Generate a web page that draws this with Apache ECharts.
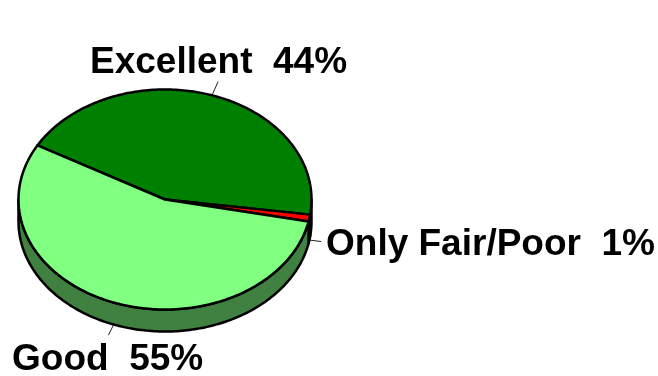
<!DOCTYPE html>
<html>
<head>
<meta charset="utf-8">
<style>html,body{margin:0;padding:0;background:#fff}#c{width:658px;height:376px}</style>
<script src="https://cdn.jsdelivr.net/npm/echarts@6/dist/echarts.min.js"></script>
</head>
<body>
<div id="c"></div>
<script>
const categories = ['Excellent', 'Only Fair/Poor', 'Good'];
const shares = [44, 1, 55];
const labelTexts = ['Excellent  44%', 'Only Fair/Poor  1%', 'Good  55%'];
const topColors = ['#008000', '#ff0000', '#80ff80'];
const sideColors = ['#004000', '#800000', '#408040'];

const geo = {cx: 165, cy: 199.5, rx: 146.5, ry: 110, depth: 22, start: 209.5};
const labelPos = [[90, 63], [326, 245], [12, 360]];
const leaderLen = [15, 12, 12];
const fontStyle = 'bold 37px "Liberation Sans", Arial, sans-serif';

const total = shares.reduce((a, b) => a + b, 0);
const rad = d => d * Math.PI / 180;
const pt = (a, dy) => [geo.cx + geo.rx * Math.cos(rad(a)), geo.cy + geo.ry * Math.sin(rad(a)) + (dy || 0)];
function arc(a, b, dy) {
  const n = Math.max(2, Math.ceil(Math.abs(b - a)));
  const out = [];
  for (let i = 0; i <= n; i++) out.push(pt(a + (b - a) * i / n, dy));
  return out;
}

function renderItem(params, api) {
  const i = params.dataIndex;
  let before = 0;
  for (let k = 0; k < i; k++) before += shares[k];
  const a0 = geo.start + before / total * 360;
  const a1 = a0 + api.value(1) / total * 360;
  const mid = (a0 + a1) / 2;
  const children = [];

  // side wall: the front half of the rim only (360..540 deg)
  const s0 = Math.max(a0, 360), s1 = Math.min(a1, 540);
  if (s1 > s0) {
    children.push({
      type: 'polygon', z2: 1,
      shape: {points: arc(s0, s1, 0).concat(arc(s1, s0, geo.depth))},
      style: {fill: sideColors[i], stroke: '#000', lineWidth: 2.5, lineJoin: 'round'}
    });
  }
  // top face
  children.push({
    type: 'polygon', z2: 2,
    shape: {points: [[geo.cx, geo.cy]].concat(arc(a0, a1, 0))},
    style: {fill: topColors[i], stroke: '#000', lineWidth: 2.5, lineJoin: 'round'}
  });
  // leader line
  const m = ((mid % 360) + 360) % 360;
  const front = m < 180;
  const p = pt(mid, front ? geo.depth : 0);
  const ux = Math.cos(rad(mid)) * geo.rx, uy = Math.sin(rad(mid)) * geo.ry;
  const ul = Math.hypot(ux, uy);
  children.push({
    type: 'line', z2: 0,
    shape: {x1: p[0], y1: p[1], x2: p[0] + ux / ul * leaderLen[i], y2: p[1] + uy / ul * leaderLen[i]},
    style: {stroke: '#222', lineWidth: 1}
  });
  // label
  children.push({
    type: 'text', z2: 3,
    style: {x: labelPos[i][0], y: labelPos[i][1], text: labelTexts[i], font: fontStyle,
            fill: '#000', textAlign: 'left', textVerticalAlign: 'middle'}
  });
  return {type: 'group', children};
}

const chart = echarts.init(document.getElementById('c'), null, {renderer: 'canvas'});
chart.setOption({
  animation: false,
  backgroundColor: '#ffffff',
  series: [{
    type: 'custom',
    coordinateSystem: 'none',
    clip: false,
    renderItem,
    data: categories.map((c, i) => ({name: c, value: [i, shares[i]]}))
  }]
});
</script>
</body>
</html>
